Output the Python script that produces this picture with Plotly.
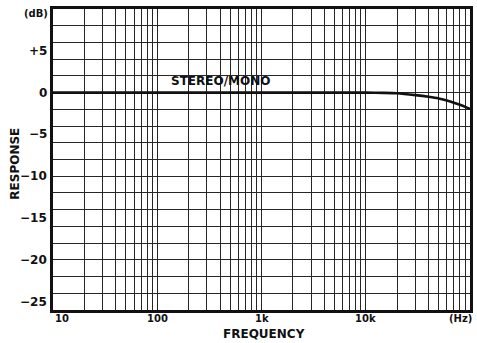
import math
import plotly.graph_objects as go

# Frequency response (dB) versus frequency (Hz)
freq_hz = [10, 20, 50, 100, 200, 500, 1000, 2000, 5000, 10000, 15000, 20000,
           30000, 40000, 50000, 60000, 70000, 80000, 90000, 100000]
response_db = [0, 0, 0, 0, 0, 0, 0, 0, 0, 0, -0.03, -0.08, -0.3, -0.5, -0.7,
               -0.95, -1.2, -1.45, -1.7, -1.95]

x_labels = ["10", "100", "1k", "10k"]
x_label_vals = [10, 100, 1000, 10000]
y_labels = ["+5", "0", "\u22125", "\u221210", "\u221215", "\u221220", "\u221225"]
y_label_vals = [5, 0, -5, -10, -15, -20, -25]

y_min, y_max = -26, 10
x_grid = [m * 10 ** e for e in range(1, 5) for m in range(1, 10)] + [100000]
y_grid = list(range(y_min, y_max + 1, 2))

FONT = "DejaVu Sans"
INK = "#111"
GRID = "#262626"

fig = go.Figure()
fig.add_trace(go.Scatter(
    x=freq_hz, y=response_db, mode="lines",
    line=dict(color=INK, width=2.6, shape="spline", smoothing=0.6),
    hoverinfo="skip", showlegend=False,
))

annotations = []
# annotation x on a log axis is given in log10 units
for v, t in zip(x_label_vals, x_labels):
    annotations.append(dict(
        x=math.log10(v), y=0, xref="x", yref="paper", text=t, showarrow=False,
        xanchor="left" if v == 10 else "center", yanchor="top", yshift=-1,
        font=dict(family=FONT, size=10, color=INK, weight="bold"),
    ))
annotations.append(dict(
    x=1, y=0, xref="paper", yref="paper", text="(Hz)", showarrow=False,
    xanchor="right", yanchor="top", xshift=4, yshift=-1,
    font=dict(family=FONT, size=10, color=INK, weight="bold"),
))
for v, t in zip(y_label_vals, y_labels):
    annotations.append(dict(
        x=0, y=v, xref="paper", yref="y", text=t, showarrow=False,
        xanchor="right", yanchor="middle", xshift=-4,
        font=dict(family=FONT, size=12, color=INK, weight="bold"),
    ))
annotations.append(dict(
    x=0, y=1, xref="paper", yref="paper", text="(dB)", showarrow=False,
    xanchor="right", yanchor="middle", xshift=-3, yshift=-4,
    font=dict(family=FONT, size=10, color=INK, weight="bold"),
))
annotations.append(dict(
    x=0.5, y=0, xref="paper", yref="paper", text="FREQUENCY", showarrow=False,
    xanchor="center", yanchor="top", xshift=2, yshift=-15,
    font=dict(family=FONT, size=12, color=INK, weight="bold"),
))
annotations.append(dict(
    x=0, y=(-8.5 - y_min) / (y_max - y_min), xref="paper", yref="paper",
    text="RESPONSE", showarrow=False, textangle=-90,
    xanchor="center", yanchor="middle", xshift=-38,
    font=dict(family=FONT, size=12, color=INK, weight="bold"),
))
annotations.append(dict(
    x=math.log10(130), y=1.35, xref="x", yref="y", text="STEREO/MONO",
    showarrow=False, xanchor="left", yanchor="middle",
    font=dict(family=FONT, size=12, color=INK, weight="bold"),
))

fig.update_layout(
    width=477, height=343, autosize=False,
    margin=dict(l=53, r=4, t=9, b=33),
    paper_bgcolor="white", plot_bgcolor="white",
    annotations=annotations,
    xaxis=dict(
        type="log", range=[1, 5], tickvals=x_grid, showticklabels=False,
        ticks="", showgrid=True, gridcolor=GRID, gridwidth=1.2,
        showline=True, linecolor=INK, linewidth=2.6, mirror=True,
        zeroline=False, fixedrange=True,
    ),
    yaxis=dict(
        range=[y_min, y_max], tickvals=y_grid, showticklabels=False,
        ticks="", showgrid=True, gridcolor=GRID, gridwidth=1.2,
        showline=True, linecolor=INK, linewidth=2.6, mirror=True,
        zeroline=False, fixedrange=True,
    ),
)

fig.write_html("out.html")
